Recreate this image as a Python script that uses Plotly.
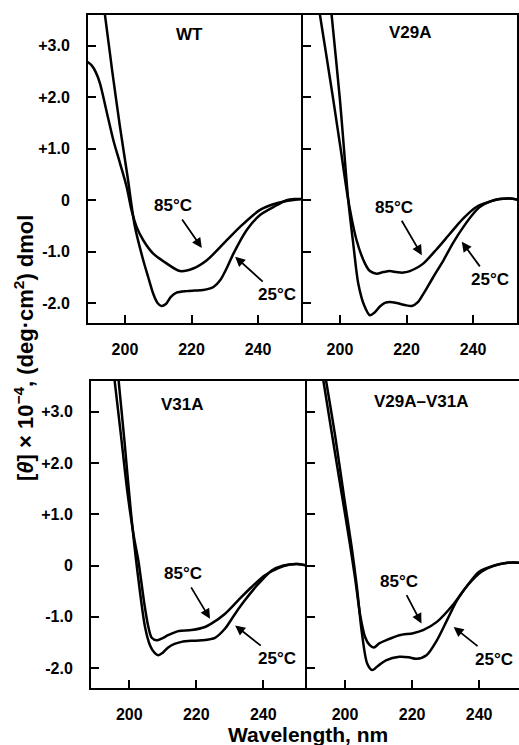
import plotly.graph_objects as go

# ---------------- data (wavelength nm, [theta] x 1e-4) ----------------
wt_25_x = [192.0, 194.0, 196.2, 198.5, 200.8, 203.0, 205.5, 207.0, 208.5, 209.8, 211.0, 212.3, 213.8, 215.5, 218.5, 221.0, 223.5, 226.6, 228.6, 230.6, 232.6, 236.6, 240.6, 245.6, 248.6, 251.0, 253.5]
wt_25_y = [4.50, 3.60, 2.50, 1.43, 0.45, -0.52, -1.17, -1.50, -1.82, -2.00, -2.06, -2.02, -1.88, -1.80, -1.77, -1.76, -1.75, -1.69, -1.56, -1.32, -1.04, -0.58, -0.29, -0.10, 0.00, 0.02, 0.02]
wt_85_x = [188.5, 190.0, 191.3, 192.5, 194.5, 196.5, 198.5, 200.5, 202.0, 203.5, 205.5, 208.5, 212.5, 216.5, 220.5, 224.6, 230.6, 234.6, 240.6, 245.6, 250.6, 253.5]
wt_85_y = [2.70, 2.62, 2.48, 2.27, 1.72, 1.17, 0.72, 0.26, -0.20, -0.52, -0.78, -1.04, -1.23, -1.38, -1.33, -1.17, -0.78, -0.52, -0.19, -0.06, 0.00, 0.02]

v29a_25_x = [196.0, 197.5, 200.0, 202.5, 204.0, 205.5, 207.3, 209.0, 210.5, 212.0, 213.5, 215.0, 217.0, 219.5, 221.6, 223.5, 225.1, 228.0, 231.1, 234.0, 237.1, 240.0, 242.1, 245.0, 248.0, 251.0, 253.5]
v29a_25_y = [4.60, 3.60, 1.95, 0.00, -0.85, -1.62, -2.05, -2.24, -2.18, -2.07, -2.00, -1.98, -2.00, -2.04, -2.06, -1.98, -1.82, -1.50, -1.17, -0.83, -0.52, -0.27, -0.13, -0.03, 0.02, 0.03, 0.01]
v29a_85_x = [193.0, 194.0, 196.0, 198.0, 200.2, 202.5, 205.0, 207.5, 209.0, 211.0, 213.0, 215.0, 217.0, 219.0, 221.0, 223.0, 225.1, 229.0, 233.1, 237.0, 241.1, 245.0, 248.0, 251.1, 253.5]
v29a_85_y = [4.05, 3.60, 2.78, 1.95, 1.00, 0.00, -0.78, -1.23, -1.38, -1.43, -1.40, -1.38, -1.40, -1.41, -1.38, -1.32, -1.23, -0.96, -0.65, -0.36, -0.13, -0.03, 0.02, 0.03, 0.01]

v31a_25_x = [196.8, 198.6, 200.4, 202.4, 204.7, 206.2, 207.5, 208.7, 210.0, 211.6, 213.5, 215.6, 218.5, 221.6, 225.6, 228.6, 231.6, 234.5, 238.5, 242.5, 246.0, 250.0, 253.0]
v31a_25_y = [3.62, 2.40, 1.10, -0.10, -1.20, -1.56, -1.70, -1.75, -1.70, -1.60, -1.53, -1.49, -1.47, -1.46, -1.41, -1.23, -0.94, -0.68, -0.36, -0.10, 0.00, 0.03, 0.00]
v31a_85_x = [195.6, 197.5, 199.4, 201.4, 202.7, 204.5, 205.7, 206.7, 208.2, 209.8, 211.6, 214.6, 218.6, 222.6, 224.6, 228.6, 232.5, 236.5, 240.5, 244.5, 248.0, 250.5, 253.0]
v31a_85_y = [3.62, 2.55, 1.45, 0.55, 0.10, -0.75, -1.20, -1.41, -1.46, -1.42, -1.36, -1.28, -1.26, -1.20, -1.13, -0.94, -0.68, -0.42, -0.19, -0.05, 0.02, 0.03, 0.00]

dbl_25_x = [194.3, 197.0, 199.8, 202.0, 203.5, 205.0, 206.6, 208.1, 210.0, 212.2, 216.2, 219.0, 221.3, 224.3, 227.4, 230.4, 233.4, 236.5, 240.0, 244.6, 248.0, 250.5, 252.5]
dbl_25_y = [3.62, 2.55, 1.30, 0.35, -0.40, -1.30, -1.91, -2.04, -1.95, -1.85, -1.78, -1.79, -1.82, -1.75, -1.46, -1.07, -0.68, -0.39, -0.12, 0.00, 0.05, 0.06, 0.05]
dbl_85_x = [193.5, 196.0, 199.0, 201.5, 203.0, 204.6, 206.0, 207.3, 208.6, 210.2, 212.2, 216.2, 220.3, 223.3, 227.4, 232.4, 236.5, 240.5, 244.6, 248.0, 250.5, 252.5]
dbl_85_y = [3.62, 2.60, 1.40, 0.40, -0.25, -1.00, -1.40, -1.55, -1.60, -1.52, -1.46, -1.36, -1.32, -1.26, -1.10, -0.75, -0.39, -0.13, 0.00, 0.05, 0.06, 0.05]

panel_names = ["WT", "V29A", "V31A", "V29A\u2013V31A"]
x_tickvals = [200, 220, 240]
x_ticktext = ["200", "220", "240"]
y_tickvals = [3, 2, 1, 0, -1, -2]
y_ticktext = ["+3.0", "+2.0", "+1.0", "0", "-1.0", "-2.0"]

# label positions (data coords) and arrow tips
name_pos = [(219.5, 3.22), (221.3, 3.25), (216.0, 3.15), (222.8, 3.2)]
tip85 = [(223.1, -0.93), (224.6, -1.07), (224.1, -1.04), (222.8, -1.13)]
off85 = [(-29, -42), (-28, -48), (-27, -45), (-22, -42)]
tip25 = [(233.1, -1.10), (236.6, -0.81), (231.6, -1.17), (232.4, -1.20)]
off25 = [(42, 38), (28, 38), (42, 33), (40, 32)]

# ---------------- figure ----------------
W, H = 519, 745
fig = go.Figure()

series = [
    (wt_25_x, wt_25_y, wt_85_x, wt_85_y),
    (v29a_25_x, v29a_25_y, v29a_85_x, v29a_85_y),
    (v31a_25_x, v31a_25_y, v31a_85_x, v31a_85_y),
    (dbl_25_x, dbl_25_y, dbl_85_x, dbl_85_y),
]
for i, (x25, y25, x85, y85) in enumerate(series):
    sfx = "" if i == 0 else str(i + 1)
    for xs, ys in ((x25, y25), (x85, y85)):
        fig.add_trace(go.Scatter(x=xs, y=ys, mode="lines",
                                 line=dict(color="black", width=2.5, shape="spline", smoothing=0.8),
                                 xaxis="x" + sfx, yaxis="y" + sfx, showlegend=False,
                                 hoverinfo="skip"))

xdom = [[88 / W, 303 / W], [303 / W, 517 / W], [91 / W, 306.5 / W], [306.5 / W, 1.0]]
ydom = [[1 - 323 / H, 1 - 15 / H], [1 - 323 / H, 1 - 15 / H], [1 - 688 / H, 1 - 381 / H], [1 - 688 / H, 1 - 381 / H]]
xrng = [[188.9, 253.5], [188.9, 253.2], [188.57, 252.9], [188.5, 251.9]]
yrng = [-2.39, 3.60]
ymirror = [False, True, False, False]

tickfont = dict(family="Liberation Sans, Arial, sans-serif", size=16, color="black", weight="bold")
layout = {}
for i in range(4):
    sfx = "" if i == 0 else str(i + 1)
    layout["xaxis" + sfx] = dict(domain=xdom[i], range=xrng[i], anchor="y" + sfx, automargin=False,
                                 showline=True, linecolor="black", linewidth=2, mirror=True,
                                 ticks="inside", ticklen=8, tickwidth=2, tickcolor="black",
                                 tickvals=x_tickvals, ticktext=x_ticktext, tickfont=tickfont,
                                 ticklabelstandoff=11, showgrid=False, zeroline=False)
    layout["yaxis" + sfx] = dict(domain=ydom[i], range=yrng, anchor="x" + sfx, automargin=False,
                                 showline=True, linecolor="black", linewidth=2,
                                 mirror=ymirror[i],
                                 ticks="inside", ticklen=8, tickwidth=2, tickcolor="black",
                                 tickvals=y_tickvals, ticktext=y_ticktext, tickfont=tickfont,
                                 showticklabels=(i in (0, 2)), ticklabelstandoff=13,
                                 showgrid=False, zeroline=False)

annots = []
lblfont = dict(family="Liberation Sans, Arial, sans-serif", size=17, color="black", weight="bold")
for i in range(4):
    sfx = "" if i == 0 else str(i + 1)
    annots.append(dict(x=name_pos[i][0], y=name_pos[i][1], xref="x" + sfx, yref="y" + sfx,
                       text=panel_names[i], showarrow=False, font=lblfont,
                       xanchor="center", yanchor="middle"))
    for tip, off, txt in ((tip85[i], off85[i], "85\u00b0C"), (tip25[i], off25[i], "25\u00b0C")):
        annots.append(dict(x=tip[0], y=tip[1], xref="x" + sfx, yref="y" + sfx,
                           text=txt, showarrow=True, ax=off[0], ay=off[1],
                           arrowhead=2, arrowsize=1.1, arrowwidth=1.8, arrowcolor="black",
                           standoff=0, startstandoff=3, font=lblfont))

annots.append(dict(x=308 / W, y=1 - 734 / H, xref="paper", yref="paper",
                   xanchor="center", yanchor="middle", borderpad=0,
                   text="Wavelength, nm", showarrow=False,
                   font=dict(family="Liberation Sans, Arial, sans-serif", size=21, color="black", weight="bold")))
annots.append(dict(x=24 / W, y=1 - 348 / H, xref="paper", yref="paper", textangle=-90,
                   xanchor="center", yanchor="middle",
                   text="[<i>\u03b8</i>] \u00d7 10<sup>\u22124</sup>, (deg\u00b7cm<sup>2</sup>) dmol",
                   showarrow=False,
                   font=dict(family="Liberation Sans, Arial, sans-serif", size=22, color="black", weight="bold")))

fig.update_layout(template="none", width=W, height=H, margin=dict(l=0, r=0, t=0, b=0),
                  paper_bgcolor="white", plot_bgcolor="white",
                  annotations=annots, showlegend=False, **layout)

fig.write_html("out.html", config={"displayModeBar": False},
               post_script="document.body.style.margin='0';document.body.style.overflow='hidden';")
